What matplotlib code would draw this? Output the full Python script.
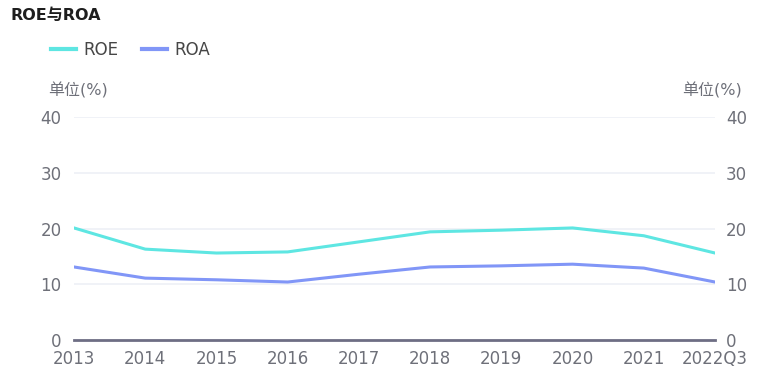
import matplotlib
matplotlib.use("Agg")
import matplotlib.pyplot as plt
from matplotlib.lines import Line2D

plt.rcParams['font.family'] = ['DejaVu Sans', 'Noto Sans CJK SC']

years = ["2013", "2014", "2015", "2016", "2017", "2018", "2019", "2020", "2021", "2022Q3"]
roe = [20.1, 16.3, 15.6, 15.8, 17.6, 19.4, 19.7, 20.1, 18.7, 15.6]
roa = [13.1, 11.1, 10.8, 10.4, 11.8, 13.1, 13.3, 13.6, 12.9, 10.4]
yticks = [0, 10, 20, 30, 40]

c_roe = "#5ee6e2"
c_roa = "#8196f7"
c_txt = "#6e7079"
c_grid = "#eef0f6"

fig = plt.figure(figsize=(7.8, 3.88), dpi=100)
W, H = 780, 388
ax = fig.add_axes([74 / W, 1 - 340 / H, (715 - 74) / W, (340 - 117) / H])

x = list(range(len(years)))
ax.plot(x, roe, color=c_roe, lw=2.2, solid_joinstyle='round', zorder=3)
ax.plot(x, roa, color=c_roa, lw=2.2, solid_joinstyle='round', zorder=3)

ax.set_xlim(0, len(years) - 1)
ax.set_ylim(0, 40)
ax.set_yticks(yticks)
ax.set_xticks(x)
ax.set_xticklabels(years)
for s in ["top", "right", "left"]:
    ax.spines[s].set_visible(False)
ax.spines["bottom"].set_color("#6e6e84")
ax.spines["bottom"].set_linewidth(2)
ax.spines["bottom"].set_zorder(4)
ax.grid(axis='y', color=c_grid, lw=1.2)
ax.set_axisbelow(True)
ax.tick_params(axis='both', length=0, labelsize=12, labelcolor=c_txt)
ax.tick_params(axis='x', pad=7)
ax.tick_params(axis='y', pad=9)

ax2 = ax.twinx()
ax2.set_ylim(0, 40)
ax2.set_yticks(yticks)
for s in ["top", "right", "left", "bottom"]:
    ax2.spines[s].set_visible(False)
ax2.tick_params(axis='y', length=0, labelsize=12, labelcolor=c_txt, pad=8)

fig.text(10 / W, 1 - 15 / H, "ROE与ROA", fontsize=11.5, fontweight='bold',
         color="#1e1e1e", va='center', ha='left')
fig.text(48 / W, 1 - 90 / H, "单位(%)", fontsize=11.5, color=c_txt, va='center', ha='left')
fig.text(742 / W, 1 - 90 / H, "单位(%)", fontsize=11.5, color=c_txt, va='center', ha='right')

handles = [Line2D([0], [0], color=c_roe, lw=3), Line2D([0], [0], color=c_roa, lw=3)]
fig.legend(handles, ["ROE", "ROA"], loc='center left', bbox_to_anchor=(36 / W, 1 - 50 / H),
           ncol=2, frameon=False, fontsize=12, handlelength=1.5, handletextpad=0.45,
           columnspacing=1.4, labelcolor="#464646")

plt.savefig("out.png", dpi=100)
